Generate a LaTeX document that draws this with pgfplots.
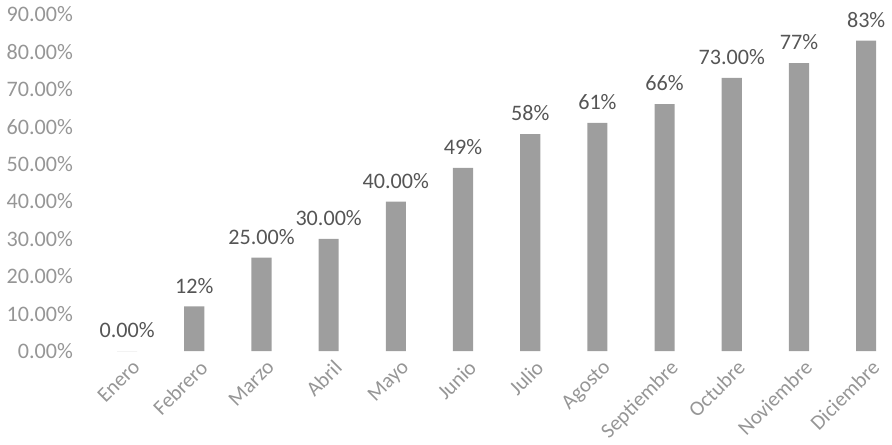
\documentclass[border=0pt]{standalone}
\usepackage{pgfplots}
\pgfplotsset{compat=1.18}
\usepackage{fontspec}
\setmainfont{Carlito}
\definecolor{barc}{RGB}{158,158,158}
\definecolor{tickc}{RGB}{150,150,150}
\definecolor{labc}{RGB}{85,85,85}
\begin{document}
\begin{tikzpicture}
\begin{axis}[
  scale only axis,
  width=397.5pt, height=167.5pt,
  ybar, bar width=10pt,
  xmin=-0.55, xmax=11.35,
  ymin=0, ymax=90,
  xtick=data,
  xticklabels={Enero,Febrero,Marzo,Abril,Mayo,Junio,Julio,Agosto,Septiembre,Octubre,Noviembre,Diciembre},
  x tick label style={rotate=45, anchor=north east, font=\fontsize{10.5}{12}\selectfont, text=tickc, yshift=-3pt, inner sep=1pt},
  ytick={0,10,...,90},
  yticklabel={\pgfmathprintnumber[fixed,fixed zerofill,precision=2]{\tick}\%},
  y tick label style={font=\fontsize{11}{13}\selectfont, text=tickc, xshift=-5pt,
    /pgf/number format/assume math mode=true},
  axis line style={draw=none},
  major tick length=0pt,
  point meta=explicit symbolic,
  nodes near coords={\pgfplotspointmeta},
  every node near coord/.append style={font=\fontsize{11}{13}\selectfont, text=labc, yshift=3pt},
  clip=false,
]
\addplot[fill=barc, draw=none] coordinates {
  (0,0) [0.00\%]
  (1,12) [12\%]
  (2,25) [25.00\%]
  (3,30) [30.00\%]
  (4,40) [40.00\%]
  (5,49) [49\%]
  (6,58) [58\%]
  (7,61) [61\%]
  (8,66) [66\%]
  (9,73) [73.00\%]
  (10,77) [77\%]
  (11,83) [83\%]
};
\end{axis}
\end{tikzpicture}
\end{document}
